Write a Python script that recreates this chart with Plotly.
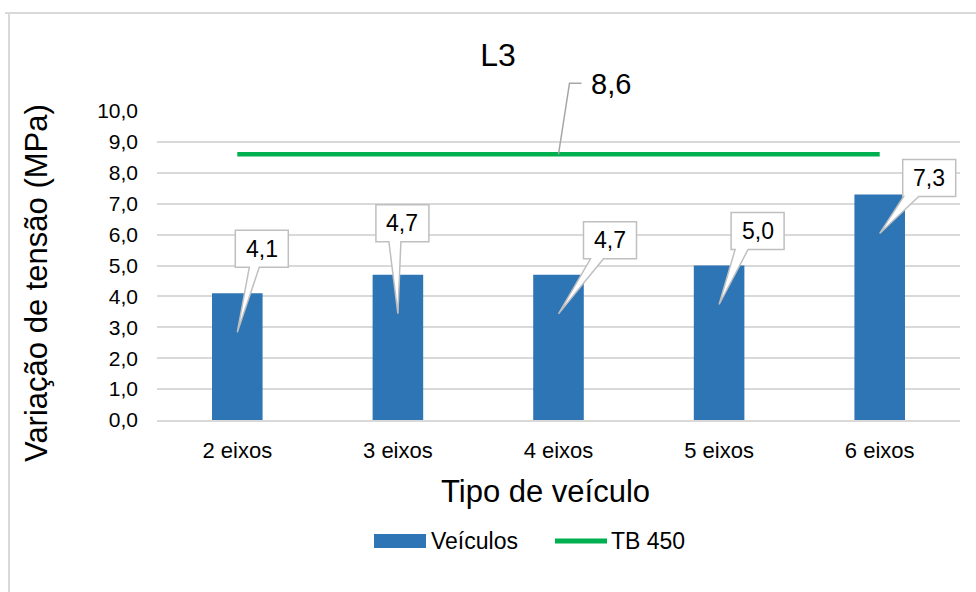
import plotly.graph_objects as go

# --- data -----------------------------------------------------------------
categories = ["2 eixos", "3 eixos", "4 eixos", "5 eixos", "6 eixos"]
veiculos = [4.1, 4.7, 4.7, 5.0, 7.3]
tb450 = [8.6, 8.6, 8.6, 8.6, 8.6]
y_ticks = [0, 1, 2, 3, 4, 5, 6, 7, 8, 9, 10]

# --- page / plot geometry (pixels) ---------------------------------------
W, H = 976, 592
ML, MR, MT, MB = 157, 16, 111, 172
PW, PH = W - ML - MR, H - MT - MB
X_RANGE = [-0.5, 4.5]
Y_RANGE = [0, 10]

BLUE = "#2e75b6"
GREEN = "#00b050"
GRID = "#d9d9d9"
CALLOUT_LINE = "#bfbfbf"
FONT = "Liberation Sans, Arial, sans-serif"


def paper_x(px):
    return (px - ML) / PW


def paper_y(py):
    return (H - MB - py) / PH


def data_to_paper_x(x):
    return (x - X_RANGE[0]) / (X_RANGE[1] - X_RANGE[0])


def data_to_paper_y(y):
    return (y - Y_RANGE[0]) / (Y_RANGE[1] - Y_RANGE[0])


def fmt(v):
    return f"{v:.1f}".replace(".", ",")


x_idx = list(range(len(categories)))

fig = go.Figure()
fig.add_trace(go.Bar(
    x=x_idx, y=veiculos, width=0.315, marker=dict(color=BLUE, line=dict(width=0)),
    name="Veículos", showlegend=False,
))
fig.add_trace(go.Scatter(
    x=x_idx, y=tb450, mode="lines", line=dict(color=GREEN, width=4.5),
    name="TB 450", showlegend=False,
))

shapes = []
annotations = []

# callout boxes: (left offset, bottom height above tip, wedge base start, wedge base end)
callout_pos = [(-2, 65, 14, 24), (-22, 72, 13, 25), (25, 55, 7, 20), (12, 55, 4, 17), (23, 37, 1, 16)]
BOX_W, BOX_H, TIP_DROP = 53, 37, 39

for i, v in enumerate(veiculos):
    l, b, b1, b2 = callout_pos[i]
    b -= TIP_DROP
    r, t = l + BOX_W, b + BOX_H
    tip = (0, -TIP_DROP)
    path = (f"M {l},{b} L {l},{t} L {r},{t} L {r},{b} L {l + b2},{b} "
            f"L {tip[0]},{tip[1]} L {l + b1},{b} Z")
    shapes.append(dict(
        type="path", path=path, xref="paper", yref="paper",
        xsizemode="pixel", ysizemode="pixel",
        xanchor=data_to_paper_x(i), yanchor=data_to_paper_y(v),
        fillcolor="white", line=dict(color=CALLOUT_LINE, width=1.5), layer="above",
    ))
    annotations.append(dict(
        x=i, y=v, xref="x", yref="y", text=fmt(v), showarrow=False,
        xanchor="center", yanchor="middle",
        xshift=l + BOX_W / 2, yshift=b + BOX_H / 2,
        font=dict(family=FONT, size=23, color="#000000"),
    ))

# leader line and label for the TB 450 level
shapes.append(dict(
    type="path", path="M 0,0 L 11,71 L 23,71", xref="paper", yref="paper",
    xsizemode="pixel", ysizemode="pixel",
    xanchor=data_to_paper_x(2), yanchor=data_to_paper_y(tb450[2]),
    line=dict(color="#a6a6a6", width=1.5), layer="above",
))
annotations.append(dict(
    x=2, y=tb450[2], xref="x", yref="y", text=fmt(tb450[2]), showarrow=False,
    xanchor="left", yanchor="middle", xshift=30, yshift=70,
    font=dict(family=FONT, size=29, color="#000000"),
))

# axis titles
annotations.append(dict(
    x=paper_x(36), y=paper_y(283), xref="paper", yref="paper",
    xanchor="center", yanchor="middle",
    text="Variação de tensão (MPa)", textangle=-90, showarrow=False,
    font=dict(family=FONT, size=31, color="#000000"),
))
annotations.append(dict(
    x=paper_x(545), y=paper_y(491), xref="paper", yref="paper",
    xanchor="center", yanchor="middle",
    text="Tipo de veículo", showarrow=False,
    font=dict(family=FONT, size=31, color="#000000"),
))

# legend
shapes.append(dict(type="rect", xref="paper", yref="paper",
                   x0=paper_x(374), x1=paper_x(426), y0=paper_y(548), y1=paper_y(534),
                   fillcolor=BLUE, line=dict(width=0)))
shapes.append(dict(type="line", xref="paper", yref="paper",
                   x0=paper_x(555), x1=paper_x(607), y0=paper_y(541), y1=paper_y(541),
                   line=dict(color=GREEN, width=5)))
annotations.append(dict(x=paper_x(429), y=paper_y(541), xref="paper", yref="paper",
                        text="Veículos", showarrow=False, xanchor="left", yanchor="middle",
                        font=dict(family=FONT, size=23, color="#000000")))
annotations.append(dict(x=paper_x(609), y=paper_y(541), xref="paper", yref="paper",
                        text="TB 450", showarrow=False, xanchor="left", yanchor="middle",
                        font=dict(family=FONT, size=23, color="#000000")))

# chart frame
shapes.append(dict(type="line", xref="paper", yref="paper",
                   x0=paper_x(5), x1=paper_x(980), y0=paper_y(13), y1=paper_y(13),
                   line=dict(color=GRID, width=2)))
shapes.append(dict(type="line", xref="paper", yref="paper",
                   x0=paper_x(9), x1=paper_x(9), y0=paper_y(13), y1=paper_y(600),
                   line=dict(color=GRID, width=2)))

fig.update_layout(
    width=W, height=H,
    margin=dict(l=ML, r=MR, t=MT, b=MB, pad=0),
    paper_bgcolor="white", plot_bgcolor="white",
    separators=",.",
    font=dict(family=FONT, color="#000000"),
    title=dict(text="L3", xref="container", yref="container",
               x=498 / W, y=1 - 55 / H, xanchor="center", yanchor="middle",
               font=dict(family=FONT, size=32, color="#000000")),
    showlegend=False,
    shapes=shapes,
    annotations=annotations,
    xaxis=dict(
        range=X_RANGE, tickvals=x_idx, ticktext=categories,
        showgrid=False, zeroline=False, showline=True, linecolor=GRID, linewidth=1.5,
        ticks="", ticklabelstandoff=10,
        tickfont=dict(family=FONT, size=22, color="#000000"),
        fixedrange=True,
    ),
    yaxis=dict(
        range=Y_RANGE, tickvals=y_ticks, tickformat=".1f",
        showgrid=True, gridcolor=GRID, gridwidth=1.5, zeroline=False, showline=False,
        ticks="", ticklabelstandoff=18,
        tickfont=dict(family=FONT, size=21, color="#000000"),
        fixedrange=True,
    ),
    bargap=0.685,
)

fig.write_html("out.html")
